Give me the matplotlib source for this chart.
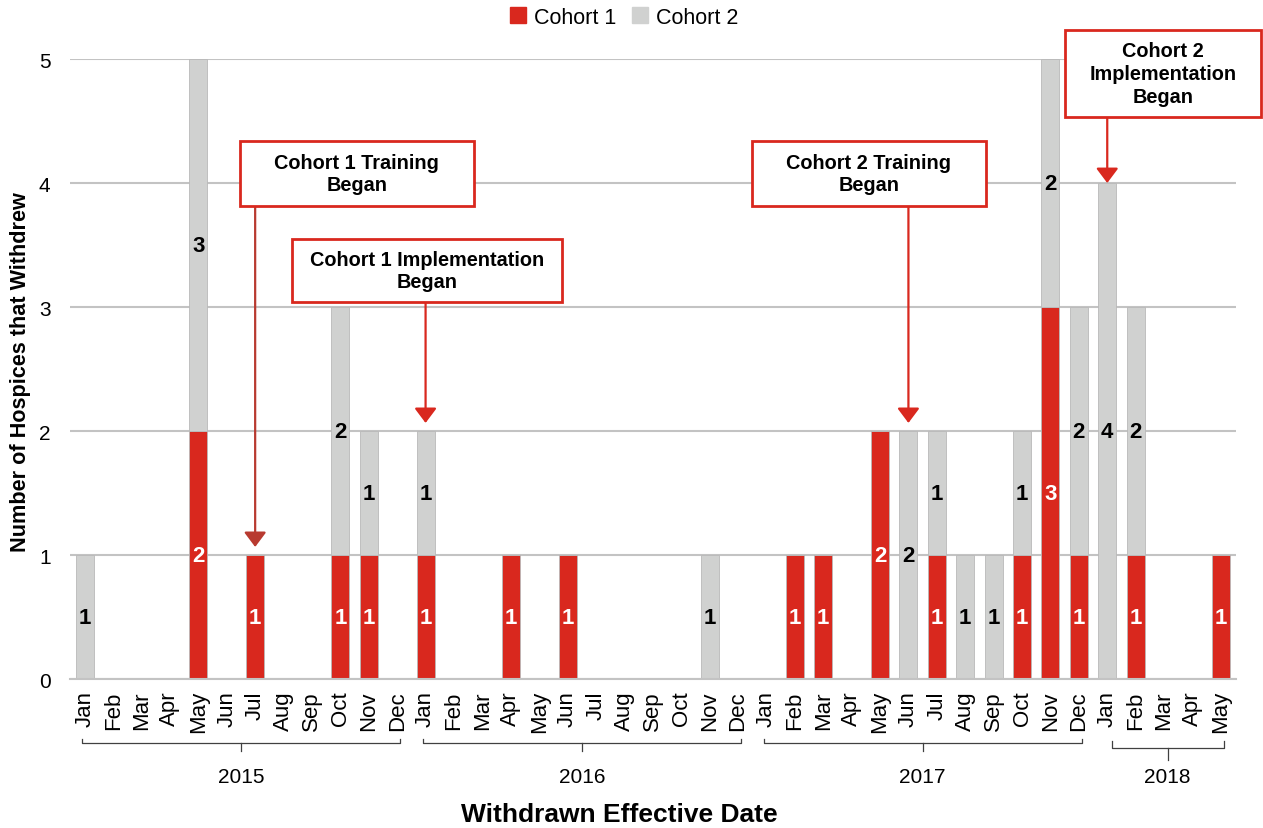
import matplotlib as mpl
import matplotlib.pyplot as plt
import matplotlib.transforms as mtransforms
from matplotlib.patches import Rectangle
from matplotlib.lines import Line2D
import numpy as np

mpl.rc('font', family='Liberation Sans', size=14)

months = (['Jan', 'Feb', 'Mar', 'Apr', 'May', 'Jun', 'Jul', 'Aug', 'Sep', 'Oct', 'Nov', 'Dec'] * 3
          + ['Jan', 'Feb', 'Mar', 'Apr', 'May'])
years = ['2015', '2016', '2017', '2018']
year_len = [12, 12, 12, 5]

cohort1 = [0, 0, 0, 0, 2, 0, 1, 0, 0, 1, 1, 0,
           1, 0, 0, 1, 0, 1, 0, 0, 0, 0, 0, 0,
           0, 1, 1, 0, 2, 0, 1, 0, 0, 1, 3, 1,
           0, 1, 0, 0, 1]
cohort2 = [1, 0, 0, 0, 3, 0, 0, 0, 0, 2, 1, 0,
           1, 0, 0, 0, 0, 0, 0, 0, 0, 0, 1, 0,
           0, 0, 0, 0, 0, 2, 1, 1, 1, 1, 2, 2,
           4, 2, 0, 0, 0]

# events: text, month index of the arrow, box (x0, x1, y0, y1) in data units
events = [
    ('Cohort 1 Training\nBegan', 6, (5.45, 13.71, 3.815, 4.339)),
    ('Cohort 1 Implementation\nBegan', 12, (7.31, 16.80, 3.04, 3.548)),
    ('Cohort 2 Training\nBegan', 29, (23.48, 31.74, 3.815, 4.339)),
    ('Cohort 2\nImplementation\nBegan', 36, (34.52, 41.41, 4.532, 5.234)),
]

RED = '#d9281e'
GREY = '#d0d1d0'

c1 = np.array(cohort1)
c2 = np.array(cohort2)
x = np.arange(len(months))

fig = plt.figure(figsize=(12.63, 8.29), dpi=100)
ax = fig.add_axes([0.0554, 0.1797, 0.9236, 0.7479])

ax.bar(x, c1, width=0.63, color=RED, edgecolor='#b9b9b9', lw=0.6, zorder=2, label='Cohort 1')
ax.bar(x, c2, width=0.63, bottom=c1, color=GREY, edgecolor='#b9b9b9', lw=0.6, zorder=2, label='Cohort 2')

for i in x:
    if c1[i] > 0:
        ax.text(i, c1[i]/2, str(c1[i]), ha='center', va='center', color='white',
                fontweight='bold', fontsize=16, zorder=3)
    if c2[i] > 0:
        ax.text(i, c1[i] + c2[i]/2, str(c2[i]), ha='center', va='center', color='black',
                fontweight='bold', fontsize=16, zorder=3)

ax.set(xlim=(-0.52, 40.55), ylim=(0, 5), yticks=range(6))
ax.set_xticks(x)
ax.set_xticklabels(months, rotation=90, fontsize=16)
ax.tick_params(length=0, pad=8)
ax.tick_params(axis='y', labelsize=15, pad=14)
ax.yaxis.grid(True, color='#c3c3c3', lw=1.5, zorder=0)
ax.set_axisbelow(True)
for s in ['top', 'right', 'left']:
    ax.spines[s].set_visible(False)
ax.spines['bottom'].set_color('#c3c3c3')
ax.spines['bottom'].set_linewidth(1.5)

# annotation boxes and arrows
for k, (txt, xi, (bx0, bx1, by0, by1)) in enumerate(events):
    ax.add_patch(Rectangle((bx0, by0), bx1 - bx0, by1 - by0, fill=True, facecolor='white',
                           edgecolor=RED, lw=2, zorder=5, clip_on=False))
    ax.text((bx0 + bx1)/2, (by0 + by1)/2, txt, ha='center', va='center', fontsize=14.3,
            fontweight='bold', linespacing=1.25, zorder=6, clip_on=False)
    tip = c1[xi] + c2[xi] + (0.0 if k == 3 else 0.065)
    lc = '#b83a30' if k == 0 else RED
    ax.annotate('', xy=(xi, tip), xytext=(xi, by0), zorder=4,
                arrowprops=dict(arrowstyle='-|>,head_width=0.45,head_length=0.6',
                                mutation_scale=15, color=lc, lw=1.6,
                                shrinkA=0, shrinkB=0))

# year brackets under the month labels
trans = mtransforms.blended_transform_factory(ax.transData, ax.transAxes)
start = 0
for k, (yr, n) in enumerate(zip(years, year_len)):
    a, b = start - 0.1, start + n - 1 + 0.1
    if k == 3:
        a = start + 0.15
        yb, up, dn = -0.1112, 0.012, 0.02
    else:
        yb, up, dn = -0.1032, 0.0065, 0.013
    mid = (a + b)/2
    ax.plot([a, a, b, b], [yb + up, yb, yb, yb + up], color='#404040', lw=0.9,
            transform=trans, clip_on=False)
    ax.plot([mid, mid], [yb, yb - dn], color='#404040', lw=0.9, transform=trans, clip_on=False)
    ax.text(mid, -0.157, yr, ha='center', va='center', fontsize=15, transform=trans)
    start += n

fig.text(0.4905, 0.017, 'Withdrawn Effective Date', ha='center', va='center',
         fontsize=19, fontweight='bold')
fig.text(0.016, 0.551, 'Number of Hospices that Withdrew', ha='center', va='center',
         rotation=90, fontsize=15.6, fontweight='bold')

fig.legend(handles=[Line2D([], [], ls='', marker='s', ms=11, color=RED, label='Cohort 1'),
                    Line2D([], [], ls='', marker='s', ms=11, color=GREY, label='Cohort 2')],
           loc='center', bbox_to_anchor=(0.493, 0.978), ncol=2, frameon=False, fontsize=15.5,
           handletextpad=0.25, columnspacing=0.6, handlelength=1.0)

fig.savefig('out.png', dpi=100)
